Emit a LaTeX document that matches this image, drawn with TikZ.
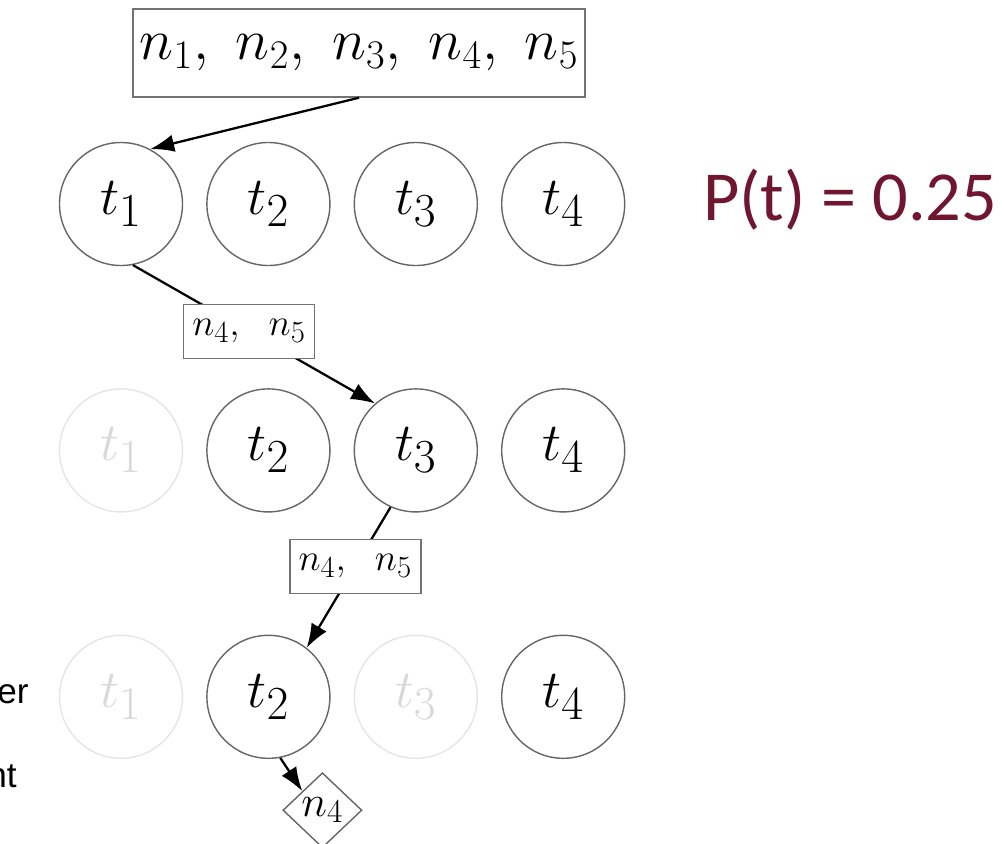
\RequirePackage{fix-cm}
\documentclass[tikz,border=0pt]{standalone}
\usepackage{fontspec}
\newfontfamily\slidefont{Liberation Sans}
\newfontfamily\calfont{Carlito}
\usepackage{tikz}
\usetikzlibrary{positioning}
\usetikzlibrary{calc}
\usetikzlibrary{arrows.meta}
\usetikzlibrary{shapes.geometric}
\definecolor{probred}{RGB}{112,22,48}
\DeclareMathSizes{30.5}{30.5}{27}{20}
\DeclareMathSizes{21.5}{21.5}{17.5}{12}
\DeclareMathSizes{25}{25}{19}{14}

\begin{document}
\begin{tikzpicture}[
    every node/.style={inner sep=0pt},
    task/.style={circle, draw=black!60, line width=0.8pt, minimum size=2.46cm, font=\fontsize{30.5}{36}\selectfont},
    faded/.style={task, draw=black!10, text=black!15},
    setbox/.style={rectangle, draw=black!55, line width=0.8pt, fill=white},
    bigbox/.style={setbox, minimum width=9.04cm, minimum height=1.76cm, font=\fontsize{33}{40}\selectfont},
    smallbox/.style={setbox, minimum width=2.62cm, minimum height=1.08cm, font=\fontsize{21.5}{25}\selectfont},
    leaf/.style={diamond, draw=black!60, line width=0.8pt, minimum width=1.58cm, minimum height=1.5cm, font=\fontsize{25}{30}\selectfont},
    flow/.style={-{Latex[length=4.8mm,width=3.5mm]}, line width=1.3pt}
]
    \useasboundingbox (0,0) rectangle (20.08,-16.88);

    \node[bigbox] (top) at (7.18,-1.06) {$n_1,\ n_2,\ n_3,\ n_4,\ n_5$};

    \node[task] (a1) at (2.42,-4.08) {$t_1$};
    \node[task, right=0.46cm of a1] (a2) {$t_2$};
    \node[task, right=0.46cm of a2] (a3) {$t_3$};
    \node[task, right=0.46cm of a3] (a4) {$t_4$};

    \node[faded, below=2.44cm of a1] (b1) {$t_1$};
    \node[task, right=0.46cm of b1] (b2) {$t_2$};
    \node[task, right=0.46cm of b2] (b3) {$t_3$};
    \node[task, right=0.46cm of b3] (b4) {$t_4$};

    \node[faded, below=2.44cm of b1] (c1) {$t_1$};
    \node[task, right=0.46cm of c1] (c2) {$t_2$};
    \node[faded, right=0.46cm of c2] (c3) {$t_3$};
    \node[task, right=0.46cm of c3] (c4) {$t_4$};

    \node[leaf, below=0.26cm of c2, xshift=1.08cm] (n4) {$n_4$};

    \node[anchor=base west, text=probred, font=\calfont\fontsize{40}{48}\selectfont] (prob) at (14.06,-4.40) {P(t) = 0.25};

    \node[anchor=base east, font=\slidefont\fontsize{20}{24}\selectfont] (er) at (0.58,-14.06) {er};
    \node[anchor=base east, font=\slidefont\fontsize{20}{24}\selectfont] (nt) at (0.34,-15.74) {nt};

    \draw[flow] (top.south) -- (a1.62);
    \draw[flow] (a1.-79) -- node[smallbox, pos=0.48] (m1) {$n_4,\ \ n_5$} (b3.131);
    \draw[flow] (b3.-114) -- node[smallbox, pos=0.42] (m2) {$n_4,\ \ n_5$} (c2.52);
    \draw[flow] (c2.-79) -- (n4.north west);
\end{tikzpicture}
\end{document}
